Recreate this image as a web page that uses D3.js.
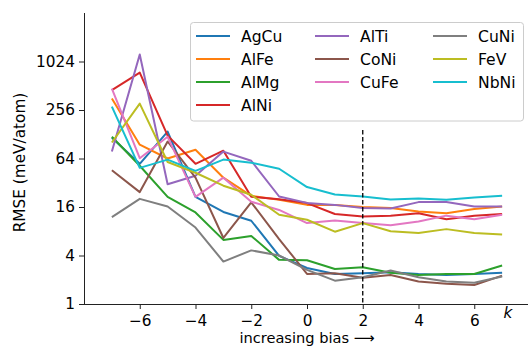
<!DOCTYPE html>
<html>
<head>
<meta charset="utf-8">
<script src="https://cdn.jsdelivr.net/npm/d3@7"></script>
<style>
  body { margin: 0; background: #fff; }
  text { font-family: "DejaVu Sans", sans-serif; fill: #000; }
</style>
</head>
<body>
<svg id="chart" width="528" height="347"></svg>
<script>
// bias parameter k
const kValues = [-7, -6, -5, -4, -3, -2, -1, 0, 1, 2, 3, 4, 5, 6, 7];

// RMSE (meV/atom) per system
const AgCu = [116, 55, 138, 21.4, 13.9, 10.8, 3.95, 2.8, 2.36, 2.41, 2.48, 2.36, 2.29, 2.36, 2.45];
const AlFe = [355, 95, 64, 82, 37, 22, 19.7, 17, 17, 16, 15.5, 14.1, 13.4, 15.1, 16.2];
const AlMg = [119, 52, 21.4, 13.7, 6.25, 7.0, 3.53, 3.5, 2.72, 2.86, 2.45, 2.29, 2.36, 2.36, 3.0];
const AlNi = [452, 747, 123, 55, 80, 21.4, 20, 17.9, 13.1, 12.2, 12.5, 13.4, 11.3, 12.5, 13.1];
const AlTi = [78, 1252, 30.6, 39, 78, 60, 21.6, 18, 17, 15.5, 15.3, 18.4, 18.4, 16.2, 16.2];
const CoNi = [45.8, 24.5, 104, 37, 6.6, 18.3, 6.4, 2.36, 2.41, 2.12, 2.29, 1.9, 1.79, 1.72, 2.25];
const CuFe = [472, 64.5, 119, 21.4, 37, 18.6, 14.7, 10.1, 10.9, 10.1, 9.5, 10.6, 12.5, 11.3, 12.8];
const CuNi = [12, 20.2, 16.2, 8.9, 3.36, 4.63, 4.0, 2.65, 1.95, 2.15, 2.6, 2.15, 1.9, 1.84, 2.19];
const FeV  = [101, 307, 58, 42.6, 29.4, 22.7, 12.8, 11.1, 7.9, 10.1, 8.0, 7.6, 8.5, 7.6, 7.3];
const NbNi = [282, 49, 62, 45, 62, 56.7, 47.8, 28.3, 22.9, 21.6, 19.8, 20.4, 19.7, 21, 22];

const seriesNames = ["AgCu", "AlFe", "AlMg", "AlNi", "AlTi", "CoNi", "CuFe", "CuNi", "FeV", "NbNi"];
const seriesValues = [AgCu, AlFe, AlMg, AlNi, AlTi, CoNi, CuFe, CuNi, FeV, NbNi];
const colors = ["#1f77b4", "#ff7f0e", "#2ca02c", "#d62728", "#9467bd",
                "#8c564b", "#e377c2", "#7f7f7f", "#bcbd22", "#17becf"];

const yTicks = [1, 4, 16, 64, 256, 1024];
const xTicks = [-6, -4, -2, 0, 2, 4, 6];
const markerK = 2;

const svg = d3.select("#chart"),
    margin = { top: 13, left: 84, bottom: 43 },
    height = +svg.attr("height") - margin.bottom;

const x = d3.scaleLinear().domain([-8, 8]).range([margin.left, 530]);
const y = d3.scaleLog().base(2).domain([1, 4096]).range([height, margin.top]);

const line = d3.line()
    .x((d, i) => x(kValues[i]))
    .y(d => y(d));

// axes
const xAxis = svg.append("g")
    .attr("transform", `translate(0,${height})`)
    .call(d3.axisBottom(x).tickValues(xTicks).tickSize(5).tickPadding(3));
const yAxis = svg.append("g")
    .attr("transform", `translate(${margin.left},0)`)
    .call(d3.axisLeft(y).tickValues(yTicks).tickFormat(d3.format("d")).tickSize(5).tickPadding(4));

[xAxis, yAxis].forEach(a => {
  a.selectAll("text").style("font-size", "15.3px").style("font-family", "DejaVu Sans");
  a.selectAll("line").attr("stroke", "#222").attr("stroke-width", 1);
  a.select(".domain").attr("stroke", "#222").attr("stroke-width", 1);
});
// remove end caps of the domain paths
xAxis.select(".domain").attr("d", `M${margin.left},0.5H528`);
yAxis.select(".domain").attr("d", `M0.5,${margin.top}V${height}`);
xAxis.selectAll(".tick text").attr("dy", "0.93em");

// lines
svg.append("g")
  .selectAll("path")
  .data(seriesValues)
  .join("path")
    .attr("fill", "none")
    .attr("stroke", (d, i) => colors[i])
    .attr("stroke-width", 2)
    .attr("stroke-linejoin", "round")
    .attr("d", line);

// marker at k = 2
svg.append("line")
    .attr("x1", x(markerK)).attr("x2", x(markerK))
    .attr("y1", 130).attr("y2", height)
    .attr("stroke", "#000")
    .attr("stroke-width", 1.3)
    .attr("stroke-dasharray", "4.5,2.5");

// labels
svg.append("text")
    .attr("transform", `translate(25,${(margin.top + height) / 2 + 4}) rotate(-90)`)
    .attr("text-anchor", "middle")
    .style("font-size", "15.3px")
    .text("RMSE (meV/atom)");

svg.append("text")
    .attr("x", x(0))
    .attr("y", 343.4)
    .attr("text-anchor", "middle")
    .style("font-size", "14.6px")
    .text("increasing bias ⟶");

svg.append("text")
    .attr("x", 508)
    .attr("y", 318)
    .attr("text-anchor", "middle")
    .style("font-size", "15.3px")
    .style("font-style", "italic")
    .text("k");

// legend
const legend = svg.append("g");
legend.append("rect")
    .attr("x", 190.5).attr("y", 22.5)
    .attr("width", 333).attr("height", 98.5)
    .attr("rx", 3)
    .attr("fill", "#fff").attr("fill-opacity", 0.85)
    .attr("stroke", "#ccc");

const colX = [196, 315, 433];
const rowsPerCol = [4, 3, 3];
let idx = 0;
rowsPerCol.forEach((n, c) => {
  for (let r = 0; r < n; r++, idx++) {
    const ly = 36 + r * 23;
    legend.append("line")
        .attr("x1", colX[c]).attr("x2", colX[c] + 34)
        .attr("y1", ly).attr("y2", ly)
        .attr("stroke", colors[idx]).attr("stroke-width", 2);
    legend.append("text")
        .attr("x", colX[c] + 45).attr("y", ly + 5.5)
        .style("font-size", "15.6px")
        .text(seriesNames[idx]);
  }
});
</script>
</body>
</html>
